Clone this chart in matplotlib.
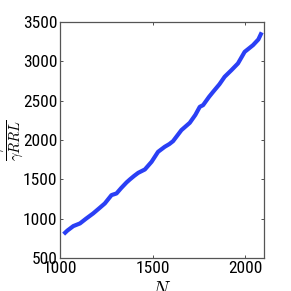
import matplotlib
matplotlib.use("Agg")
import matplotlib.pyplot as plt

N = [1020, 1040, 1072, 1108, 1140, 1179, 1210, 1242, 1278, 1305, 1330, 1359, 1377,
     1400, 1422, 1458, 1494, 1529, 1565, 1590, 1610, 1655, 1700, 1730, 1754, 1772,
     1804, 1826, 1860, 1888, 1925, 1960, 1996, 2041, 2070, 2088]
ratio = [805, 850, 907, 941, 1000, 1068, 1130, 1195, 1301, 1322, 1390, 1462, 1500,
         1545, 1584, 1627, 1724, 1851, 1915, 1950, 1987, 2127, 2220, 2320, 2423, 2445,
         2550, 2614, 2710, 2805, 2890, 2975, 3122, 3207, 3280, 3370]

xticks = [1000, 1500, 2000]
yticks = [500, 1000, 1500, 2000, 2500, 3000, 3500]

plt.rcParams['font.family'] = ['Roboto Condensed', 'Liberation Sans', 'DejaVu Sans']
plt.rcParams['mathtext.fontset'] = 'cm'

fig = plt.figure(figsize=(2.91, 2.91), dpi=100)
ax = fig.add_axes([0.206, 0.113, 0.701, 0.811])
ax.plot(N, ratio, color='#2a3ff5', linewidth=3.0, solid_capstyle='butt')
ax.set_xlim(1000, 2100)
ax.set_ylim(500, 3500)
ax.set_xticks(xticks)
ax.set_yticks(yticks)
ax.tick_params(direction='in', length=2.5, width=0.6, top=True, right=True,
               labelsize=12.5, pad=2, colors='#333333', labelcolor='black')
for s in ax.spines.values():
    s.set_color('#555555')
    s.set_linewidth(0.9)
ax.set_ylabel(r'$\dfrac{\gamma RG}{\gamma RRL}$', fontsize=10.5, labelpad=-2)
ax.set_xlabel(r'$N$', fontsize=14, labelpad=4)
fig.savefig('out.png', dpi=100)
